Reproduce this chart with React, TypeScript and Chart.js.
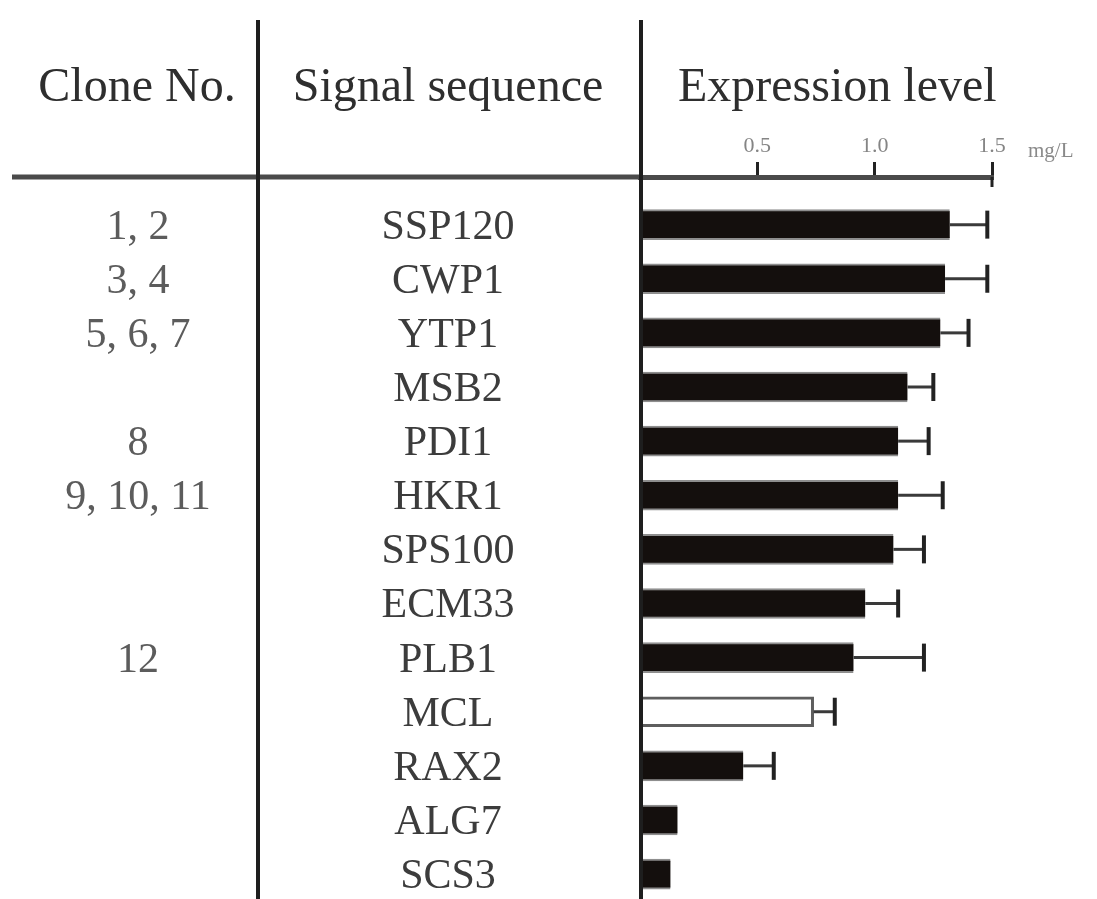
import React, { useEffect, useRef } from "react";
import { Chart, registerables } from "chart.js";

Chart.register(...registerables);

// ---- data ----
const signalSequences = ["SSP120", "CWP1", "YTP1", "MSB2", "PDI1", "HKR1", "SPS100", "ECM33", "PLB1", "MCL", "RAX2", "ALG7", "SCS3"];
const cloneNumbers = ["1, 2", "3, 4", "5, 6, 7", "", "8", "9, 10, 11", "", "", "12", "", "", "", ""];
const expressionLevels = [1.32, 1.30, 1.28, 1.14, 1.10, 1.10, 1.08, 0.96, 0.91, 0.74, 0.44, 0.16, 0.13];
const errorValues = [0.16, 0.18, 0.12, 0.11, 0.13, 0.19, 0.13, 0.14, 0.30, 0.09, 0.13, 0, 0];
const xTickValues = [0, 0.5, 1.0, 1.5];
const xTickLabels = ["", "0.5", "1.0", "1.5"];
const headers = ["Clone No.", "Signal sequence", "Expression level"];
const unitLabel = "mg/L";
const controlSequence = "MCL";

const SERIF = '"Liberation Serif", "Times New Roman", serif';

const tablePlugin = {
  id: "tablePlugin",
  beforeDraw(chart: any) {
    const { ctx, chartArea, scales } = chart;
    const xs = scales.x;
    const ys = scales.y;
    const zeroX = xs.getPixelForValue(0);
    ctx.save();
    ctx.fillStyle = "#ffffff";
    ctx.fillRect(0, 0, chart.width, chart.height);

    // headers
    ctx.fillStyle = "#2e2e2e";
    ctx.font = `48px ${SERIF}`;
    ctx.textBaseline = "alphabetic";
    ctx.textAlign = "center";
    ctx.fillText(headers[0], 137, 101);
    ctx.fillText(headers[1], 448, 101);
    ctx.textAlign = "left";
    ctx.fillText(headers[2], zeroX + 38, 101);

    // unit
    ctx.fillStyle = "#8a8a8a";
    ctx.font = `21px ${SERIF}`;
    ctx.fillText(unitLabel, xs.getPixelForValue(1.5) + 36, 157);

    // row labels
    ctx.textAlign = "center";
    ctx.font = `42px ${SERIF}`;
    signalSequences.forEach((name, i) => {
      const y = ys.getPixelForValue(i) + 14;
      ctx.fillStyle = "#3c3c3c";
      ctx.fillText(name, 448, y);
      if (cloneNumbers[i]) {
        ctx.fillStyle = "#5c5c5c";
        ctx.fillText(cloneNumbers[i], 138, y);
      }
    });

    // horizontal rule (left part)
    ctx.strokeStyle = "#4a4a4a";
    ctx.lineWidth = 5;
    ctx.beginPath();
    ctx.moveTo(12, chartArea.top);
    ctx.lineTo(chartArea.left, chartArea.top);
    ctx.stroke();

    // left vertical rule
    ctx.strokeStyle = "#1e1e1e";
    ctx.lineWidth = 4;
    ctx.beginPath();
    ctx.moveTo(258, 20);
    ctx.lineTo(258, chart.height);
    ctx.stroke();
    ctx.restore();
  },
  afterDatasetsDraw(chart: any) {
    const { ctx, scales } = chart;
    const xs = scales.x;
    const ys = scales.y;
    ctx.save();
    expressionLevels.forEach((v, i) => {
      const err = errorValues[i];
      if (!err) return;
      const x0 = xs.getPixelForValue(v);
      const x1 = xs.getPixelForValue(v + err);
      const y = ys.getPixelForValue(i);
      ctx.strokeStyle = "#3a3a3a";
      ctx.lineWidth = 3;
      ctx.beginPath();
      ctx.moveTo(x0, y);
      ctx.lineTo(x1, y);
      ctx.stroke();
      ctx.strokeStyle = "#222222";
      ctx.lineWidth = 4;
      ctx.beginPath();
      ctx.moveTo(x1, y - 14);
      ctx.lineTo(x1, y + 14);
      ctx.stroke();
    });
    // longer tick at axis end
    const xe = xs.getPixelForValue(1.5);
    ctx.strokeStyle = "#222222";
    ctx.lineWidth = 3;
    ctx.beginPath();
    ctx.moveTo(xe, chart.chartArea.top);
    ctx.lineTo(xe, chart.chartArea.top + 10);
    ctx.stroke();
    // right vertical rule (value axis origin)
    const zeroX = xs.getPixelForValue(0);
    ctx.strokeStyle = "#1e1e1e";
    ctx.lineWidth = 4;
    ctx.beginPath();
    ctx.moveTo(zeroX + 1, 20);
    ctx.lineTo(zeroX + 1, chart.height);
    ctx.stroke();
    ctx.restore();
  },
};

export default function App() {
  const ref = useRef<HTMLCanvasElement | null>(null);

  useEffect(() => {
    if (!ref.current) return;
    const isControl = (i: number) => signalSequences[i] === controlSequence;
    const chart = new Chart(ref.current, {
      type: "bar",
      data: {
        datasets: [
          {
            data: expressionLevels.map((v, i) => ({ x: v, y: i })) as any,
            backgroundColor: signalSequences.map((_, i) => (isControl(i) ? "#ffffff" : "#140f0d")),
            borderColor: signalSequences.map((_, i) => (isControl(i) ? "#5e5e5e" : "#8e8e8e")),
            borderWidth: ((c: any) =>
              isControl(c.dataIndex)
                ? { top: 3, bottom: 3, left: 0, right: 3 }
                : { top: 2, bottom: 2, left: 0, right: 0 }) as any,
            borderSkipped: false,
            barThickness: 30,
          },
        ],
      },
      options: {
        animation: false,
        responsive: false,
        indexAxis: "y",
        layout: { padding: { left: 640, right: 105, top: 137, bottom: 0 } },
        plugins: { legend: { display: false }, tooltip: { enabled: false } },
        scales: {
          x: {
            type: "linear",
            position: "top",
            min: 0,
            max: 1.5,
            afterBuildTicks: (scale: any) => {
              scale.ticks = xTickValues.map((v) => ({ value: v }));
            },
            afterFit: (scale: any) => {
              scale.height = 40;
            },
            ticks: {
              padding: 3,
              color: "#858585",
              font: { family: SERIF, size: 22 },
              maxRotation: 0,
              callback: (value: any) => {
                const idx = xTickValues.findIndex((t) => Math.abs(t - Number(value)) < 1e-9);
                return idx >= 0 ? xTickLabels[idx] : "";
              },
            },
            grid: {
              drawOnChartArea: false,
              drawTicks: true,
              tickLength: 15,
              lineWidth: 3,
              color: (c: any) => (c.tick && c.tick.value === 0 ? "rgba(0,0,0,0)" : "#222222"),
            },
            border: { display: true, color: "#4a4a4a", width: 5 },
          },
          y: {
            type: "linear",
            display: false,
            reverse: true,
            offset: false,
            min: -0.88,
            max: 12.46,
          },
        },
      },
      plugins: [tablePlugin],
    } as any);
    return () => chart.destroy();
  }, []);

  return (
    <div style={{ position: "fixed", left: 0, top: 0, width: 1097, height: 899, background: "#fff" }}>
      <canvas ref={ref} width={1097} height={899} style={{ display: "block" }} />
    </div>
  );
}
